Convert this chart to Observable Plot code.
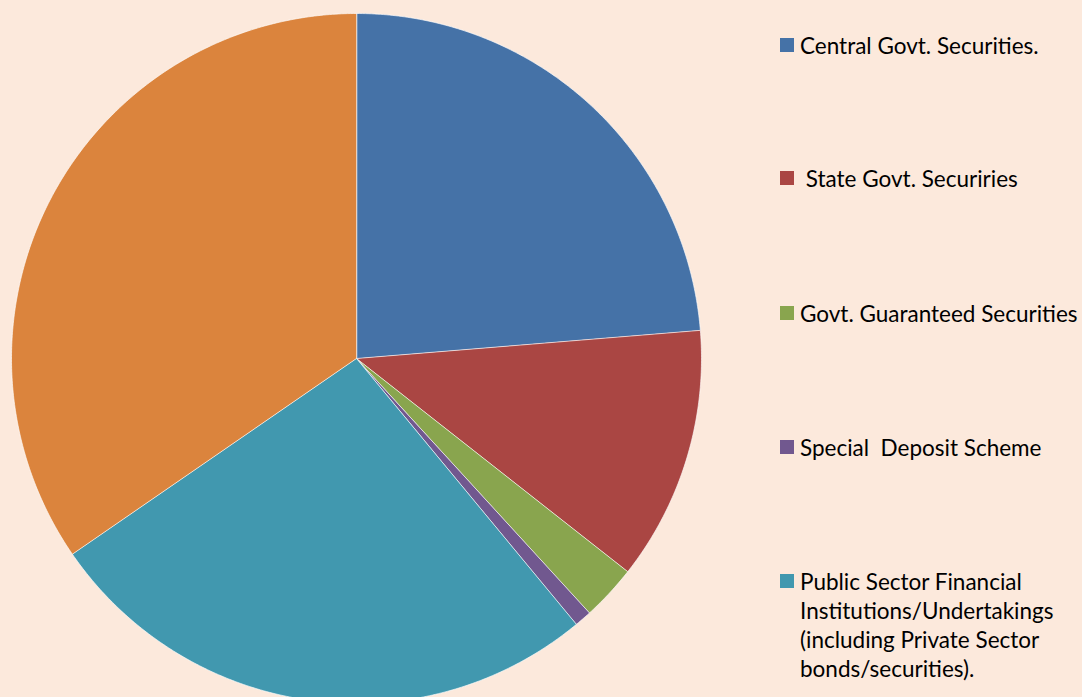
<!DOCTYPE html>
<html><head><meta charset="utf-8">
<script src="https://cdn.jsdelivr.net/npm/d3@7"></script>
<script src="https://cdn.jsdelivr.net/npm/@observablehq/plot@0.6"></script>
<style>
html,body{margin:0;padding:0;background:#fce9dc;}
#wrap{position:relative;width:1082px;height:697px;overflow:hidden;background:#fce9dc;}
#chart{position:absolute;left:0;top:0;}
#legend{position:absolute;left:780px;top:0;font-family:Lato,"Open Sans",sans-serif;font-size:22.5px;color:#000;}
.item{position:absolute;left:0;display:flex;align-items:flex-start;}
.sw{width:14px;height:14px;margin-top:7.5px;margin-right:6px;flex:none;}
.lab{white-space:pre;line-height:29px;}
</style></head>
<body>
<div id="wrap"><div id="chart"></div><div id="legend"></div></div>
<script>
// Data (percent shares; clockwise from 12 o'clock)
const categories = [
  "Central Govt. Securities.",
  " State Govt. Securiries",
  "Govt. Guaranteed Securities",
  "Special  Deposit Scheme",
  "Public Sector Financial\nInstitutions/Undertakings\n(including Private Sector\nbonds/securities).",
  "Other"
];
const shares = [23.7, 11.9, 2.6, 0.8, 26.4, 34.6];
const colors = ["#4572a7", "#aa4643", "#89a54e", "#71588f", "#4198af", "#db843d"];
const legendCount = 5; // orange slice has no legend entry in the original

// Layout
const W = 1082, H = 697, cx = 356, cy = 358, R = 345;

const table = categories.map((c, i) => ({key: c, value: shares[i], color: colors[i]}));
const arcs = d3.pie().sort(null).value(d => d.value)(table);

// Build slice outlines (wedge polygons) from the pie angles
const pts = [];
arcs.forEach((a, i) => {
  const k = a.data.key;
  pts.push({k, x: 0, y: 0});
  const n = Math.max(2, Math.ceil((a.endAngle - a.startAngle) / (Math.PI / 360)));
  for (let j = 0; j <= n; j++) {
    const t = a.startAngle + (a.endAngle - a.startAngle) * j / n;
    pts.push({k, x: Math.sin(t) * R, y: Math.cos(t) * R});
  }
});

const plot = Plot.plot({
  width: W, height: H,
  margin: 0,
  x: {domain: [-cx, W - cx], axis: null},
  y: {domain: [cy - H, cy], axis: null},
  color: {domain: categories, range: colors},
  style: {background: "transparent", overflow: "visible"},
  marks: [
    Plot.line(pts, {x: "x", y: "y", z: "k", fill: "k", stroke: "#ffffff", strokeOpacity: 0.8, strokeWidth: 0.8, curve: "linear-closed"})
  ]
});
document.getElementById("chart").appendChild(plot);

// Legend
const legendTops = [45, 178, 313, 447, 581];
const leg = document.getElementById("legend");
for (let i = 0; i < legendCount; i++) {
  const it = document.createElement("div");
  it.className = "item";
  it.style.top = (legendTops[i] - 14.5) + "px";
  const sw = document.createElement("div");
  sw.className = "sw";
  sw.style.background = colors[i];
  const lab = document.createElement("div");
  lab.className = "lab";
  lab.textContent = categories[i];
  it.appendChild(sw); it.appendChild(lab);
  leg.appendChild(it);
}
</script>
</body></html>
